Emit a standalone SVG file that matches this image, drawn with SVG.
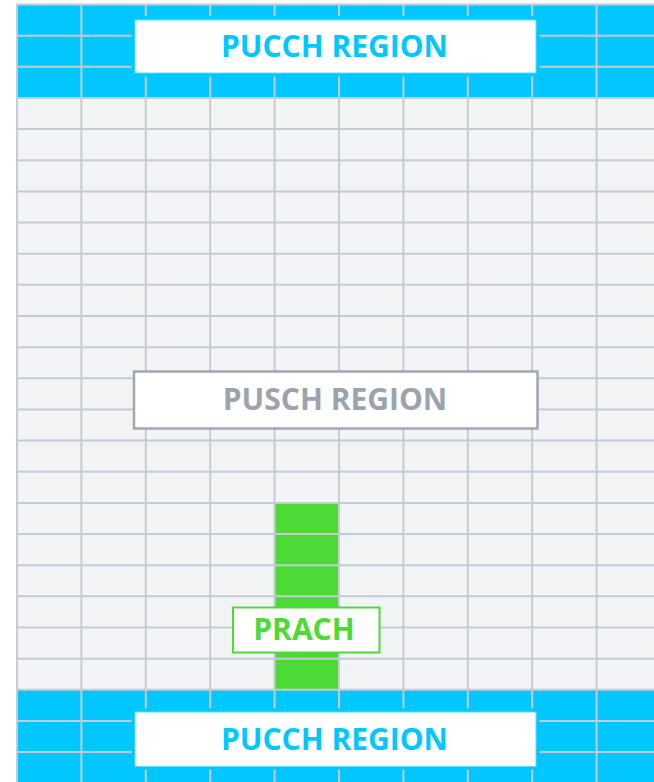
<svg xmlns="http://www.w3.org/2000/svg" width="654" height="782" viewBox="0 0 654 782">
<style>
.grid{stroke:#c4cbd4;stroke-width:2;fill:none}
.lbl{font-family:"Open Sans","DejaVu Sans",sans-serif;font-weight:bold;font-size:30px;text-anchor:middle}
</style>
<rect width="654" height="782" fill="#ffffff"/>
<g id="background">
<rect x="17" y="4.5" width="640" height="780" fill="#f2f3f5"/>
<rect x="17" y="4.5" width="640" height="93.5" fill="#00c8ff"/>
<rect x="17" y="689.6" width="640" height="95" fill="#00c8ff"/>
<rect id="prach-column" x="274.6" y="503" width="64.4" height="186.6" fill="#4cdb35"/>
</g>
<g id="grid" class="grid">
<path d="M17 4.5V782M81.4 4.5V782M145.8 4.5V782M210.2 4.5V782M274.6 4.5V782M339 4.5V782M403.4 4.5V782M467.8 4.5V782M532.2 4.5V782M596.6 4.5V782"/>
<path d="M16 4.5H654M16 35.65H654M16 66.8H654M16 97.95H654M16 129.1H654M16 160.25H654M16 191.4H654M16 222.55H654M16 253.7H654M16 284.85H654M16 316H654M16 347.15H654M16 378.3H654M16 409.45H654M16 440.6H654M16 471.75H654M16 502.9H654M16 534.05H654M16 565.2H654M16 596.35H654M16 627.5H654M16 658.65H654M16 689.8H654M16 720.95H654M16 752.1H654"/>
</g>
<g id="connectors"></g>
<g id="pucch-top">
<rect x="131.5" y="16" width="408" height="60.5" fill="#00c8ff"/>
<rect x="135" y="20" width="401" height="53" fill="#ffffff" stroke="#5fd9ff" stroke-width="1"/>
<text class="lbl" x="334.5" y="56.7" fill="#00c8ff">PUCCH REGION</text>
</g>
<g id="pusch">
<rect x="134" y="371.5" width="403.5" height="57" fill="#ffffff" stroke="#9ea7b3" stroke-width="2.5"/>
<text class="lbl" x="335" y="410" fill="#9aa3ae">PUSCH REGION</text>
</g>
<g id="prach">
<rect x="233" y="607.5" width="146.5" height="45" fill="#ffffff" stroke="#4cdb35" stroke-width="2"/>
<text class="lbl" x="304" y="640" fill="#4cdb35">PRACH</text>
</g>
<g id="pucch-bottom">
<rect x="131.5" y="708.5" width="408" height="61" fill="#00c8ff"/>
<rect x="135" y="712" width="401" height="54.5" fill="#ffffff" stroke="#5fd9ff" stroke-width="1"/>
<text class="lbl" x="334.5" y="749.7" fill="#00c8ff">PUCCH REGION</text>
</g>
</svg>
